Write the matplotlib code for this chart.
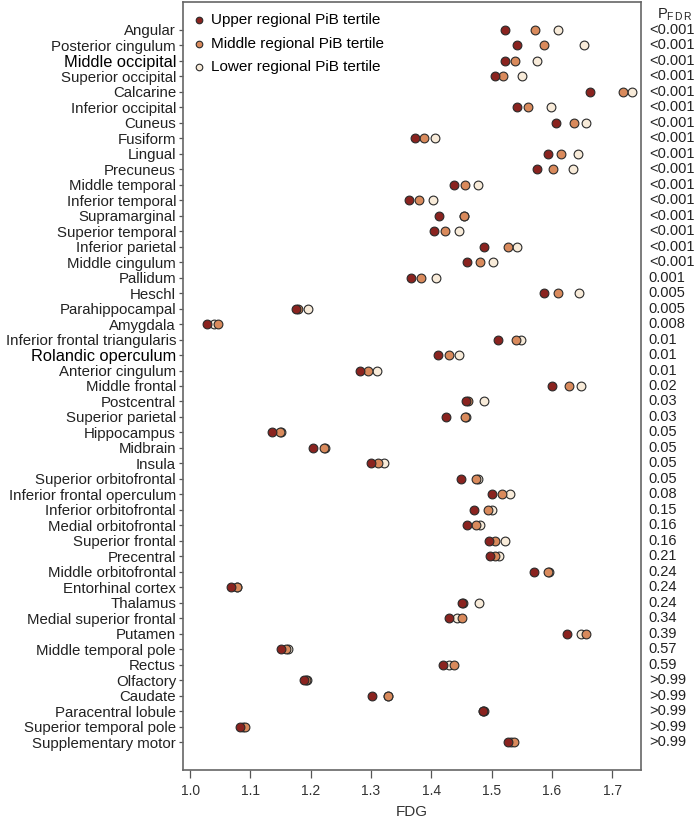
import matplotlib
matplotlib.use('Agg')
import matplotlib.pyplot as plt

# regions, top to bottom
regions = ['Angular', 'Posterior cingulum', 'Middle occipital', 'Superior occipital',
           'Calcarine', 'Inferior occipital', 'Cuneus', 'Fusiform', 'Lingual', 'Precuneus',
           'Middle temporal', 'Inferior temporal', 'Supramarginal', 'Superior temporal',
           'Inferior parietal', 'Middle cingulum', 'Pallidum', 'Heschl', 'Parahippocampal',
           'Amygdala', 'Inferior frontal triangularis', 'Rolandic operculum',
           'Anterior cingulum', 'Middle frontal', 'Postcentral', 'Superior parietal',
           'Hippocampus', 'Midbrain', 'Insula', 'Superior orbitofrontal',
           'Inferior frontal operculum', 'Inferior orbitofrontal', 'Medial orbitofrontal',
           'Superior frontal', 'Precentral', 'Middle orbitofrontal', 'Entorhinal cortex',
           'Thalamus', 'Medial superior frontal', 'Putamen', 'Middle temporal pole',
           'Rectus', 'Olfactory', 'Caudate', 'Paracentral lobule', 'Superior temporal pole',
           'Supplementary motor']

# FDG per PiB tertile
upper = [1.523, 1.543, 1.523, 1.505, 1.664, 1.543, 1.607, 1.373, 1.593, 1.576,
         1.437, 1.363, 1.413, 1.405, 1.487, 1.460, 1.366, 1.587, 1.176, 1.027,
         1.510, 1.411, 1.282, 1.601, 1.458, 1.425, 1.136, 1.204, 1.300, 1.449,
         1.501, 1.471, 1.460, 1.496, 1.497, 1.570, 1.067, 1.451, 1.430, 1.625,
         1.151, 1.419, 1.188, 1.301, 1.486, 1.082, 1.527]
middle = [1.572, 1.587, 1.539, 1.519, 1.718, 1.561, 1.636, 1.388, 1.616, 1.602,
          1.456, 1.379, 1.454, 1.422, 1.528, 1.481, 1.383, 1.610, 1.179, 1.046,
          1.541, 1.429, 1.295, 1.629, 1.461, 1.456, 1.149, 1.222, 1.311, 1.474,
          1.518, 1.494, 1.474, 1.506, 1.506, 1.594, 1.077, 1.452, 1.451, 1.656,
          1.159, 1.438, 1.192, 1.328, 1.486, 1.091, 1.538]
lower = [1.611, 1.653, 1.576, 1.551, 1.733, 1.599, 1.656, 1.406, 1.644, 1.635,
         1.477, 1.403, 1.455, 1.446, 1.542, 1.502, 1.407, 1.645, 1.196, 1.040,
         1.549, 1.446, 1.310, 1.649, 1.488, 1.457, 1.150, 1.224, 1.322, 1.478,
         1.531, 1.501, 1.481, 1.522, 1.513, 1.596, 1.078, 1.479, 1.443, 1.648,
         1.162, 1.429, 1.193, 1.328, 1.487, 1.088, 1.533]

p_fdr = ['<0.001'] * 16 + ['0.001', '0.005', '0.005', '0.008', '0.01', '0.01', '0.01',
         '0.02', '0.03', '0.03', '0.05', '0.05', '0.05', '0.05', '0.08', '0.15', '0.16',
         '0.16', '0.21', '0.24', '0.24', '0.24', '0.34', '0.39', '0.57', '0.59'] + ['>0.99'] * 5

xticks = [1.0, 1.1, 1.2, 1.3, 1.4, 1.5, 1.6, 1.7]
big_labels = ['Middle occipital', 'Rolandic operculum']

plt.rcParams['font.family'] = ['Liberation Sans', 'DejaVu Sans']
plt.rcParams['mathtext.fontset'] = 'custom'
plt.rcParams['mathtext.rm'] = 'Liberation Sans'

fig = plt.figure(figsize=(6.94, 8.24), dpi=100)
ax = fig.add_axes([183 / 694, 1 - 770 / 824, 458 / 694, 768 / 824])

ypos = list(range(1, len(regions) + 1))
edge = '#2a2a2a'
# lower first so darker dots sit on top
ax.scatter(lower, ypos, s=40, c='#f8ebd9', edgecolors=edge, linewidths=0.8, zorder=3,
           label='Lower regional PiB tertile')
ax.scatter(middle, ypos, s=40, c='#d98a5c', edgecolors=edge, linewidths=0.8, zorder=4,
           label='Middle regional PiB tertile')
ax.scatter(upper, ypos, s=40, c='#8a231f', edgecolors=edge, linewidths=0.8, zorder=5,
           label='Upper regional PiB tertile')

ax.set_xlim(0.988, 1.748)
ax.set_ylim(len(regions) + 1.8, -0.8)
ax.set_xticks(xticks)
ax.set_xticklabels([f'{t:.1f}' for t in xticks], fontsize=10, color='#333333')
ax.set_yticks(ypos)
ax.set_yticklabels(regions, fontsize=10.8, color='#222222')
for lab in ax.get_yticklabels():
    if lab.get_text() in big_labels:
        lab.set_fontsize(11.8)
        lab.set_color('black')
ax.tick_params(axis='y', length=3, width=0.9, color='#555555', pad=2)
ax.tick_params(axis='x', length=6, width=0.9, color='#555555', pad=4)
for sp in ax.spines.values():
    sp.set_color('#666666')
    sp.set_linewidth(1.2)
ax.set_xlabel('FDG', fontsize=11, color='#333333', labelpad=5)

# P FDR column on the right
for y, p in zip(ypos, p_fdr):
    ax.text(1.017, y, p, transform=ax.get_yaxis_transform(), fontsize=10.5,
            va='center', ha='left', color='#222222')
ax.text(1.035, 0.0, r'P$_{\mathrm{F\,D\,R}}$', transform=ax.get_yaxis_transform(),
        fontsize=10.5, va='center', ha='left', color='#222222')

h, l = ax.get_legend_handles_labels()
ax.legend(h[::-1], l[::-1], loc='upper left', frameon=False, fontsize=11,
          handletextpad=0.2, handlelength=1.1, labelspacing=0.6,
          borderaxespad=0.35, markerscale=0.75, bbox_to_anchor=(-0.008, 1.0))

fig.savefig('out.png', dpi=100)
